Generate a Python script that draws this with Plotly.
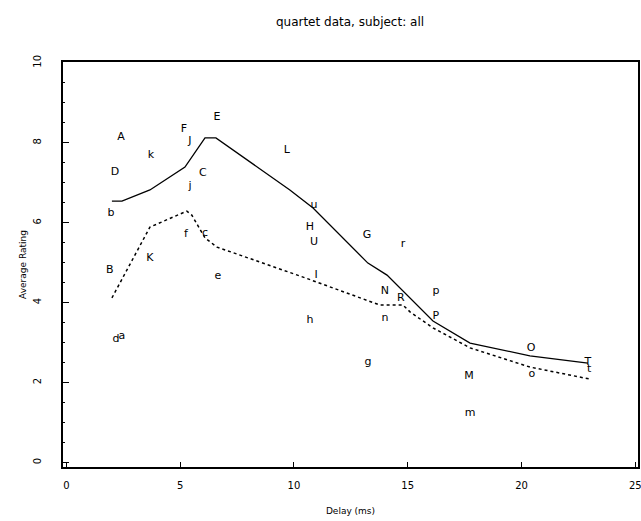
import plotly.graph_objects as go

# Individual ratings (letters)
labels = ["A", "D", "b", "B", "d", "a", "k", "K", "F", "J", "E", "C", "j", "f", "c", "e",
          "L", "u", "H", "U", "G", "r", "I", "h", "N", "n", "R", "p", "P", "g", "M", "m",
          "O", "o", "T", "t"]
label_x = [2.40, 2.13, 1.96, 1.91, 2.18, 2.44, 3.71, 3.67, 5.16, 5.43, 6.62, 6.00, 5.43, 5.25, 6.09, 6.66,
           9.69, 10.88, 10.70, 10.88, 13.21, 14.79, 10.97, 10.70, 14.00, 14.00, 14.70, 16.24, 16.24, 13.25, 17.69, 17.74,
           20.42, 20.46, 22.92, 22.97]
label_y = [8.14, 7.27, 6.24, 4.82, 3.09, 3.17, 7.69, 5.12, 8.34, 8.04, 8.64, 7.24, 6.92, 5.72, 5.74, 4.67,
           7.82, 6.44, 5.89, 5.52, 5.69, 5.47, 4.69, 3.57, 4.29, 3.62, 4.12, 4.29, 3.67, 2.52, 2.17, 1.24,
           2.87, 2.22, 2.52, 2.34]

# Mean curves
solid_x = [2.00, 2.44, 3.67, 5.21, 6.09, 6.57, 9.82, 10.84, 13.25, 14.09, 16.11, 17.74, 20.37, 22.92]
solid_y = [6.54, 6.54, 6.82, 7.39, 8.12, 8.12, 6.82, 6.37, 4.99, 4.69, 3.54, 2.99, 2.67, 2.49]
dotted_x = [2.00, 3.67, 5.29, 5.51, 6.09, 6.62, 10.40, 13.78, 14.79, 15.10, 16.11, 17.74, 20.37, 23.00]
dotted_y = [4.12, 5.89, 6.29, 6.19, 5.62, 5.39, 4.64, 3.94, 3.94, 3.77, 3.37, 2.87, 2.39, 2.09]

x_ticks = [0, 5, 10, 15, 20, 25]
y_ticks = [0, 2, 4, 6, 8, 10]

fnt = "DejaVu Sans, Liberation Sans, sans-serif"

fig = go.Figure()
fig.add_trace(go.Scatter(x=solid_x, y=solid_y, mode="lines",
                         line=dict(color="black", width=1.3), showlegend=False, hoverinfo="skip"))
fig.add_trace(go.Scatter(x=dotted_x, y=dotted_y, mode="lines",
                         line=dict(color="black", width=1.5, dash="dot"), showlegend=False, hoverinfo="skip"))
fig.add_trace(go.Scatter(x=label_x, y=label_y, mode="text", text=labels,
                         textposition="middle center",
                         textfont=dict(family=fnt, size=11, color="black"),
                         showlegend=False, hoverinfo="skip"))

fig.update_layout(
    width=641, height=521,
    margin=dict(l=63, r=3, t=62, b=54, autoexpand=False),
    paper_bgcolor="white", plot_bgcolor="white",
    title=dict(text="quartet data, subject: all", x=0.546, xanchor="center",
               yref="container", y=0.958, yanchor="middle",
               font=dict(family=fnt, size=12, color="black")),
    font=dict(family=fnt, color="black"),
)
fig.update_xaxes(
    range=[-0.15, 25.12], tickvals=x_ticks, ticktext=[str(v) for v in x_ticks],
    ticks="inside", ticklen=5, tickcolor="black", tickwidth=1,
    showline=True, linecolor="black", linewidth=1.5, mirror=True,
    showgrid=False, zeroline=False, automargin=False,
    tickfont=dict(family=fnt, size=10), ticklabelstandoff=8, ticklabeloverflow="allow",
    title=dict(text="Delay (ms)", font=dict(family=fnt, size=9), standoff=18),
)
fig.update_yaxes(
    range=[-0.11, 10.02], tickvals=y_ticks, ticktext=[str(v) for v in y_ticks],
    ticks="inside", ticklen=6, tickcolor="black", tickwidth=1,
    minor=dict(ticks="inside", ticklen=2, dtick=0.5, tickcolor="black"),
    showline=True, linecolor="black", linewidth=1.5, mirror=True,
    showgrid=False, zeroline=False, tickangle=-90, automargin=False,
    tickfont=dict(family=fnt, size=10), ticklabelstandoff=16, ticklabeloverflow="allow",
    title=dict(text="Average Rating", font=dict(family=fnt, size=9), standoff=4),
)

fig.write_html("out.html", config={"displayModeBar": False},
               post_script="document.body.style.margin='0';document.body.style.overflow='hidden';")
